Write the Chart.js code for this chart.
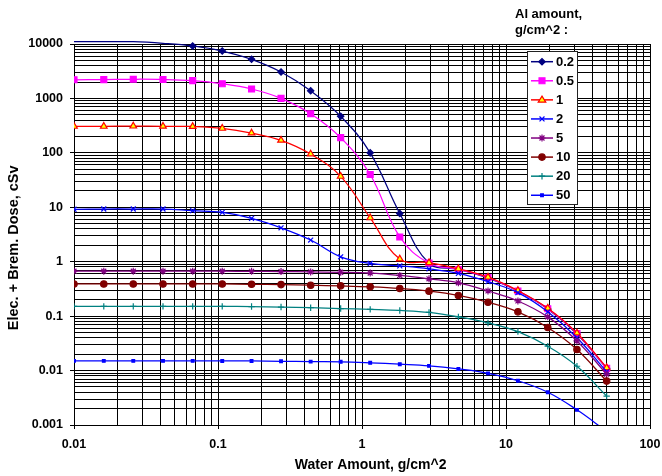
<!DOCTYPE html>
<html>
<head>
<meta charset="utf-8">
<script src="https://cdn.jsdelivr.net/npm/chart.js@4.4.1/dist/chart.umd.min.js"></script>
<style>
  html, body { margin: 0; padding: 0; background: #fff; }
  #wrap { width: 662px; height: 476px; position: relative; }
</style>
</head>
<body>
<div id="wrap"><canvas id="c" width="662" height="476"></canvas></div>
<script>
// Water shielding thickness (g/cm^2) at which each dose was computed
const waterAmount = [0.01, 0.0161, 0.0258, 0.0415, 0.0667, 0.107, 0.171, 0.274, 0.44, 0.711,
                     1.14, 1.83, 2.92, 4.67, 7.5, 12.1, 19.5, 31.1, 50];

// Electron + bremsstrahlung dose (cSv), one array per aluminium thickness
const doseAl02 = [11000, 11000, 11000, 10300, 9200, 7430, 5230, 3060, 1380, 470,
                  100, 7.7, 0.94, 0.72, 0.5, 0.29, 0.135, 0.047, 0.011];
const doseAl05 = [2200, 2220, 2250, 2230, 2120, 1860, 1490, 1005, 523, 190,
                  40, 2.85, 0.94, 0.72, 0.51, 0.29, 0.137, 0.048, 0.011];
const doseAl1  = [307, 307, 310, 308, 305, 282, 231, 170, 95, 37,
                  6.4, 1.12, 0.96, 0.74, 0.52, 0.295, 0.14, 0.049, 0.0113];
const doseAl2  = [9.2, 9.3, 9.3, 9.3, 8.65, 8.05, 6.25, 4.2, 2.5, 1.23,
                  0.93, 0.84, 0.74, 0.61, 0.43, 0.27, 0.12, 0.04, 0.0095];
const doseAl5  = [0.67, 0.67, 0.67, 0.67, 0.67, 0.67, 0.665, 0.66, 0.65, 0.64,
                  0.62, 0.56, 0.485, 0.41, 0.29, 0.19, 0.097, 0.035, 0.0086];
const doseAl10 = [0.39, 0.39, 0.39, 0.39, 0.39, 0.39, 0.385, 0.38, 0.37, 0.36,
                  0.346, 0.323, 0.288, 0.24, 0.18, 0.12, 0.062, 0.0244, 0.0064];
const doseAl20 = [0.151, 0.151, 0.151, 0.151, 0.151, 0.151, 0.15, 0.147, 0.143, 0.138,
                  0.133, 0.127, 0.117, 0.097, 0.075, 0.052, 0.028, 0.012, 0.0034];
const doseAl50 = [0.0151, 0.0151, 0.0151, 0.0151, 0.0151, 0.015, 0.015, 0.0148, 0.0146, 0.0145,
                  0.0139, 0.0131, 0.0122, 0.0107, 0.0089, 0.0065, 0.004, 0.0019, 0.00076];

const seriesLabels = ['0.2', '0.5', '1', '2', '5', '10', '20', '50'];
const seriesValues = [doseAl02, doseAl05, doseAl1, doseAl2, doseAl5, doseAl10, doseAl20, doseAl50];

const xTickLabels = ['0.01', '0.1', '1', '10', '100'];
const yTickLabels = ['0.001', '0.01', '0.1', '1', '10', '100', '1000', '10000'];

const xTitle = 'Water Amount, g/cm^2';
const yTitle = 'Elec. + Brem. Dose, cSv';
const legendTitle = ['Al amount,', 'g/cm^2 :'];

// Line / marker look for each series
const seriesStyles = [
  { line: '#000080', edge: '#000080', fill: '#000080', shape: 'rectRot',  r: 3.2 },
  { line: '#FF00FF', edge: '#FF00FF', fill: '#FF00FF', shape: 'rect',     r: 4.2 },
  { line: '#FF0000', edge: '#FF0000', fill: '#FFFF00', shape: 'triangle', r: 3.8 },
  { line: '#0000FF', edge: '#0000FF', fill: '#0000FF', shape: 'crossRot', r: 3.5 },
  { line: '#800080', edge: '#800080', fill: '#800080', shape: 'star',     r: 3.5 },
  { line: '#800000', edge: '#800000', fill: '#800000', shape: 'circle',   r: 3.2 },
  { line: '#008080', edge: '#008080', fill: '#008080', shape: 'cross',    r: 3.2 },
  { line: '#0000FF', edge: '#0000FF', fill: '#0000FF', shape: 'rect',     r: 1.9 }
];

const FONT = "'Liberation Sans', Arial, sans-serif";
const yMax = Number(yTickLabels[yTickLabels.length - 1]);
const yMin = Number(yTickLabels[0]);
const xMin = Number(xTickLabels[0]);
const xMax = Number(xTickLabels[xTickLabels.length - 1]);

// Gridline positions: 1..9 times every decade between the labelled ticks
function decadeGrid(labels) {
  const out = [];
  for (let i = 0; i < labels.length; i++) {
    const base = Number(labels[i]);
    if (i === labels.length - 1) { out.push(base); break; }
    for (let m = 1; m <= 9; m++) out.push(base * m);
  }
  return out;
}
function labelFor(labels, v) {
  const hit = labels.find(l => Math.abs(Number(l) - v) <= Number(l) * 1e-6);
  return hit === undefined ? '' : hit;
}
function isMajor(labels, v) { return labelFor(labels, v) !== ''; }

const datasets = seriesValues.map((vals, i) => {
  const s = seriesStyles[i];
  return {
    label: seriesLabels[i],
    data: vals.map((y, k) => ({ x: waterAmount[k], y })),
    showLine: true,
    borderColor: s.line,
    borderWidth: 1.25,
    tension: 0.4,
    pointStyle: s.shape,
    pointRadius: ctx => (ctx.parsed && ctx.parsed.y > yMax) ? 0 : s.r,
    pointBackgroundColor: s.fill,
    pointBorderColor: s.edge,
    pointBorderWidth: 1.2,
    clip: { left: 0, right: 0, bottom: 0, top: 3 },
    order: seriesLabels.length - i
  };
});

function markerPath(ctx, shape, x, y, r) {
  ctx.beginPath();
  if (shape === 'circle') {
    ctx.arc(x, y, r, 0, Math.PI * 2);
  } else if (shape === 'rect') {
    const h = r * Math.SQRT1_2;
    ctx.rect(x - h, y - h, 2 * h, 2 * h);
  } else if (shape === 'rectRot') {
    ctx.moveTo(x - r, y); ctx.lineTo(x, y - r); ctx.lineTo(x + r, y); ctx.lineTo(x, y + r); ctx.closePath();
  } else if (shape === 'triangle') {
    ctx.moveTo(x, y - r); ctx.lineTo(x + r * 0.866 * 1.15, y + r * 0.6); ctx.lineTo(x - r * 0.866 * 1.15, y + r * 0.6); ctx.closePath();
  } else if (shape === 'cross') {
    ctx.moveTo(x - r, y); ctx.lineTo(x + r, y); ctx.moveTo(x, y - r); ctx.lineTo(x, y + r);
  } else if (shape === 'crossRot') {
    const d = r * Math.SQRT1_2;
    ctx.moveTo(x - d, y - d); ctx.lineTo(x + d, y + d); ctx.moveTo(x + d, y - d); ctx.lineTo(x - d, y + d);
  } else if (shape === 'star') {
    const d = r * Math.SQRT1_2;
    ctx.moveTo(x - r, y); ctx.lineTo(x + r, y); ctx.moveTo(x, y - r); ctx.lineTo(x, y + r);
    ctx.moveTo(x - d, y - d); ctx.lineTo(x + d, y + d); ctx.moveTo(x + d, y - d); ctx.lineTo(x - d, y + d);
  }
}

// Titles and the boxed legend drawn over the plot
const decorations = {
  id: 'decorations',
  afterDraw(chart) {
    const ctx = chart.ctx;
    const area = chart.chartArea;
    ctx.save();
    ctx.fillStyle = '#000';

    // axis titles
    ctx.font = 'bold 14px ' + FONT;
    ctx.textAlign = 'center';
    ctx.textBaseline = 'middle';
    ctx.fillText(xTitle, area.left + (area.right - area.left) * 0.515, 465);
    ctx.save();
    ctx.translate(14, area.top + (area.bottom - area.top) * 0.535);
    ctx.rotate(-Math.PI / 2);
    ctx.font = 'bold 14.5px ' + FONT;
    ctx.fillText(yTitle, 0, 0);
    ctx.restore();

    // legend heading
    ctx.font = 'bold 13px ' + FONT;
    ctx.textAlign = 'left';
    ctx.fillText(legendTitle[0], 515, 14);
    ctx.fillText(legendTitle[1], 515, 30.5);

    // legend box
    const bx = 527.5, by = 51.5, bw = 50, bh = 153;
    ctx.fillStyle = '#fff';
    ctx.fillRect(bx, by, bw, bh);
    ctx.strokeStyle = '#222';
    ctx.lineWidth = 1;
    ctx.strokeRect(bx, by, bw, bh);

    chart.data.datasets.forEach((ds, i) => {
      const s = seriesStyles[i];
      const y = 61.7 + i * 19.08;
      ctx.strokeStyle = s.line;
      ctx.lineWidth = 1.5;
      ctx.beginPath();
      ctx.moveTo(531, y); ctx.lineTo(553, y);
      ctx.stroke();
      markerPath(ctx, s.shape, 542, y, s.r);
      ctx.fillStyle = s.fill;
      ctx.strokeStyle = s.edge;
      ctx.lineWidth = 1.2;
      if (!['cross', 'crossRot', 'star'].includes(s.shape)) ctx.fill();
      ctx.stroke();
      ctx.fillStyle = '#000';
      ctx.font = 'bold 13px ' + FONT;
      ctx.textAlign = 'left';
      ctx.textBaseline = 'middle';
      ctx.fillText(ds.label, 556, y + 0.5);
    });
    ctx.restore();
  }
};

new Chart(document.getElementById('c'), {
  type: 'scatter',
  data: { datasets },
  plugins: [decorations],
  options: {
    responsive: false,
    devicePixelRatio: 1,
    animation: false,
    events: [],
    layout: { padding: { left: 0, top: 44, right: 12, bottom: 0 } },
    plugins: { legend: { display: false }, tooltip: { enabled: false } },
    scales: {
      x: {
        type: 'logarithmic',
        min: xMin, max: xMax,
        afterBuildTicks: axis => { axis.ticks = decadeGrid(xTickLabels).map(v => ({ value: v })); },
        afterFit: axis => { axis.height = 51; axis.paddingLeft = 0; axis.paddingRight = 0; },
        border: { display: true, color: '#000', width: 1 },
        grid: {
          color: '#000', lineWidth: 1, drawTicks: true, tickLength: 4,
          tickColor: c => (c.tick && isMajor(xTickLabels, c.tick.value)) ? '#000' : 'rgba(0,0,0,0)'
        },
        ticks: {
          autoSkip: false, maxRotation: 0, padding: 8, color: '#000',
          font: { family: FONT, size: 12.5, weight: 'bold' },
          callback: v => labelFor(xTickLabels, v)
        }
      },
      y: {
        type: 'logarithmic',
        min: yMin, max: yMax,
        afterBuildTicks: axis => { axis.ticks = decadeGrid(yTickLabels).map(v => ({ value: v })); },
        afterFit: axis => { axis.width = 74; axis.paddingTop = 0; axis.paddingBottom = 0; },
        border: { display: true, color: '#000', width: 1 },
        grid: {
          color: '#000', lineWidth: 1, drawTicks: true, tickLength: 4,
          tickColor: c => (c.tick && isMajor(yTickLabels, c.tick.value)) ? '#000' : 'rgba(0,0,0,0)'
        },
        ticks: {
          autoSkip: false, padding: 7, color: '#000',
          font: { family: FONT, size: 12.5, weight: 'bold' },
          callback: v => labelFor(yTickLabels, v)
        }
      }
    }
  }
});
</script>
</body>
</html>
